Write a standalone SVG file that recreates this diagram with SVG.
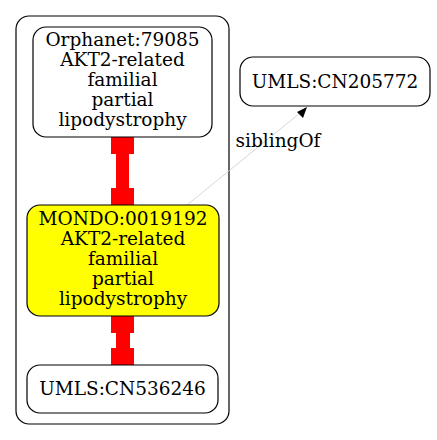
<svg xmlns="http://www.w3.org/2000/svg" width="437" height="440" viewBox="0 0 437 440">
<style>
.t{font-family:"DejaVu Serif","Liberation Serif",serif;font-size:18.5px;fill:#000;text-anchor:middle}
.n{fill:#fff;stroke:#000;stroke-width:1.2}
.r{fill:#f00;stroke:none}
</style>
<rect width="437" height="440" fill="#fff"/>
<g id="cluster"><rect x="16" y="16" width="213" height="408" rx="13" fill="none" stroke="#000" stroke-width="1.2"/></g>
<g id="connectors">
<g id="e1"><rect class="r" x="111" y="131" width="23" height="23"/><rect class="r" x="116" y="154" width="13" height="34"/><rect class="r" x="111" y="188" width="23" height="22"/></g>
<g id="e2"><rect class="r" x="111" y="309" width="23" height="24"/><rect class="r" x="116" y="333" width="14" height="15"/><rect class="r" x="111" y="348" width="23" height="23"/></g>
<g id="e3"><line x1="187" y1="205" x2="300" y2="113" stroke="#ccc" stroke-width="0.8"/><polygon points="307,107 297,112 303,118" fill="#000"/><text class="t" x="278" y="147">siblingOf</text></g>
</g>
<g id="orphanet"><rect class="n" x="33" y="27" width="179" height="110" rx="13"/>
<text class="t" x="122.5" y="46">Orphanet:79085</text><text class="t" x="122.5" y="66">AKT2-related</text><text class="t" x="122.5" y="86">familial</text><text class="t" x="122.5" y="106">partial</text><text class="t" x="122.5" y="126">lipodystrophy</text></g>
<g id="mondo"><rect x="27" y="205" width="192" height="111" rx="13" fill="#ff0" stroke="#000" stroke-width="1.2"/>
<text class="t" x="123" y="225">MONDO:0019192</text><text class="t" x="123" y="245">AKT2-related</text><text class="t" x="123" y="265">familial</text><text class="t" x="123" y="285">partial</text><text class="t" x="123" y="305">lipodystrophy</text></g>
<g id="cn536246"><rect class="n" x="27" y="365" width="191" height="48" rx="13"/><text class="t" x="122.5" y="395">UMLS:CN536246</text></g>
<g id="cn205772"><rect class="n" x="240" y="57" width="190" height="49" rx="13"/><text class="t" x="335" y="88">UMLS:CN205772</text></g>
</svg>
